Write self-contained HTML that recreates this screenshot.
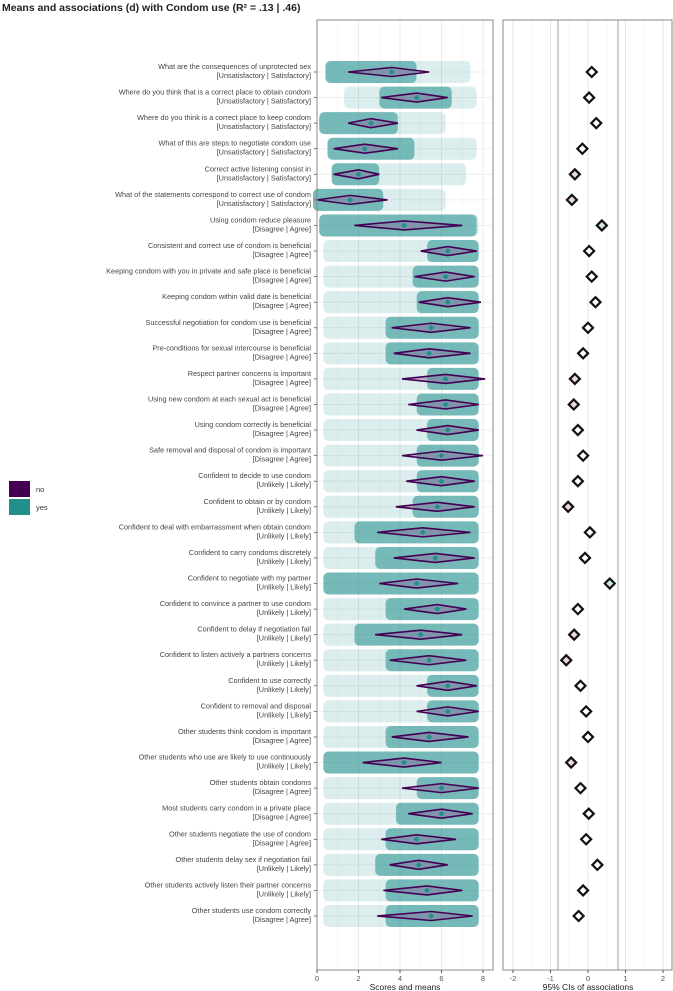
<!DOCTYPE html>
<html><head><meta charset="utf-8">
<style>
body{margin:0;background:#fff;width:673px;height:991px;overflow:hidden;font-family:"Liberation Sans",sans-serif;}
svg{display:block}
</style></head>
<body>
<svg id="c" width="673" height="991" xmlns="http://www.w3.org/2000/svg">
<text x="2" y="11" font-size="10.5" font-weight="bold" fill="#222">Means and associations (d) with Condom use (R² = .13 | .46)</text>
<g>
<rect x="9" y="481" width="21" height="16" fill="#440154"/>
<text x="36" y="492" font-size="7.5" fill="#333">no</text>
<rect x="9" y="499" width="21" height="16" fill="#21908c"/>
<text x="36" y="510" font-size="7.5" fill="#333">yes</text>
</g>
</svg>
<script>
const labels1=["What are the consequences of unprotected sex","Where do you think that is a correct place to obtain condom","Where do you think is a correct place to keep condom","What of this are steps to negotiate condom use","Correct active listening consist in","What of the statements correspond to correct use of condom","Using condom reduce pleasure","Consistent and correct use of condom is beneficial","Keeping condom with you in private and safe place is beneficial","Keeping condom  within valid date is beneficial","Successful negotiation for condom use is beneficial","Pre-conditions for sexual intercourse is beneficial","Respect partner concerns is important","Using new condom at each sexual act is beneficial","Using condom correctly is beneficial","Safe removal and disposal of condom is important","Confident to decide to use condom","Confident to obtain or by condom","Confident to deal with embarrassment when obtain condom","Confident to carry condoms discretely","Confident to negotiate with my partner","Confident to convince a partner to use condom","Confident to delay if negotiation fail","Confident to listen actively a partners concerns","Confident to use correctly","Confident to removal and disposal","Other students think condom is important","Other students who use are likely to use continuously","Other students obtain condoms","Most students carry condom in a private place","Other students negotiate the use of condom","Other students delay sex if negotiation fail","Other students actively listen their partner concerns","Other students use condom correctly"];
const anchors=["[Unsatisfactory | Satisfactory]","[Unsatisfactory | Satisfactory]","[Unsatisfactory | Satisfactory]","[Unsatisfactory | Satisfactory]","[Unsatisfactory | Satisfactory]","[Unsatisfactory | Satisfactory]","[Disagree | Agree]","[Disagree | Agree]","[Disagree | Agree]","[Disagree | Agree]","[Disagree | Agree]","[Disagree | Agree]","[Disagree | Agree]","[Disagree | Agree]","[Disagree | Agree]","[Disagree | Agree]","[Unlikely | Likely]","[Unlikely | Likely]","[Unlikely | Likely]","[Unlikely | Likely]","[Unlikely | Likely]","[Unlikely | Likely]","[Unlikely | Likely]","[Unlikely | Likely]","[Unlikely | Likely]","[Unlikely | Likely]","[Disagree | Agree]","[Unlikely | Likely]","[Disagree | Agree]","[Disagree | Agree]","[Disagree | Agree]","[Unlikely | Likely]","[Unlikely | Likely]","[Disagree | Agree]"];
const meanLo=[1.5,3.1,1.5,0.8,0.8,0,1.8,5.0,4.7,4.9,3.6,3.7,4.1,4.4,4.8,4.1,4.3,3.8,2.9,3.7,3.0,4.2,2.8,3.5,4.8,4.8,3.6,2.2,4.1,4.4,3.1,3.5,3.2,2.9];
const meanMid=[3.6,4.8,2.6,2.3,2.0,1.6,4.2,6.3,6.2,6.3,5.5,5.4,6.2,6.2,6.3,6.0,6.0,5.8,5.1,5.7,4.8,5.8,5.0,5.4,6.3,6.3,5.4,4.2,6.0,6.0,4.8,4.9,5.3,5.5];
const meanHi=[5.4,6.3,3.9,3.9,3.0,3.4,7.0,7.7,7.6,7.9,7.4,7.4,8.1,7.8,7.8,8.0,7.6,7.6,7.4,7.6,6.8,7.2,7.0,7.2,7.7,7.8,7.3,6.0,7.8,7.5,6.7,6.3,7.0,7.5];
const denseLo=[0.6,3.2,0.3,0.7,0.9,0,0.3,5.5,4.8,5.0,3.5,3.5,5.5,5.0,5.5,5.0,5.0,4.8,2.0,3.0,0.5,3.5,2.0,3.5,5.5,5.5,3.5,0.5,5.0,4.0,3.5,3.0,3.5,3.5];
const denseHi=[4.6,6.3,3.7,4.5,2.8,3.0,7.5,7.6,7.6,7.6,7.6,7.6,7.6,7.6,7.6,7.6,7.6,7.6,7.6,7.6,7.6,7.6,7.6,7.6,7.6,7.6,7.6,7.6,7.6,7.6,7.6,7.6,7.6,7.6];
const sparseLo=[0.6,1.5,0.3,0.7,0.9,0,0.3,0.5,0.5,0.5,0.5,0.5,0.5,0.5,0.5,0.5,0.5,0.5,0.5,0.5,0.5,0.5,0.5,0.5,0.5,0.5,0.5,0.5,0.5,0.5,0.5,0.5,0.5,0.5];
const sparseHi=[7.2,7.5,6.0,7.5,7.0,6.0,7.6,7.6,7.6,7.6,7.6,7.6,7.6,7.6,7.6,7.6,7.6,7.6,7.6,7.6,7.6,7.6,7.6,7.6,7.6,7.6,7.6,7.6,7.6,7.6,7.6,7.6,7.6,7.6];
const assoc=[0.10,0.03,0.22,-0.15,-0.35,-0.43,0.37,0.03,0.10,0.20,0,-0.13,-0.35,-0.38,-0.27,-0.13,-0.27,-0.53,0.05,-0.08,0.58,-0.27,-0.37,-0.58,-0.20,-0.05,0,-0.45,-0.20,0.02,-0.05,0.25,-0.13,-0.25];
const leftTicks=[0,2,4,6,8];
const rightTicks=[-2,-1,0,1,2];

const NS="http://www.w3.org/2000/svg";
const svg=document.getElementById('c');
function mk(tag,attrs,parent){const e=document.createElementNS(NS,tag);for(const k in attrs)e.setAttribute(k,attrs[k]);(parent||svg).appendChild(e);return e;}
const yTop=20,yBot=970,L0=317,L1=493,R0=503,R1=672;
const xL=v=>317+v*20.75;
const xR=v=>588+v*37.5;
const yRow=i=>72+i*(844/(labels1.length-1));

const lp=mk('g',{});


const rp=mk('g',{});


for(let v=0;v<=8;v++){const l=mk('line',{x1:xL(v),x2:xL(v),y1:yTop,y2:yBot,stroke:v%2?'#f2f2f2':'#e6e6e6','stroke-width':v%2?0.5:0.8},lp);}
for(let v=-2;v<=2;v+=0.5){const l=mk('line',{x1:xR(v),x2:xR(v),y1:yTop,y2:yBot,stroke:Number.isInteger(v)?'#e0e0e0':'#f2f2f2','stroke-width':0.8},rp);}
[-0.8,0.8].forEach(v=>{const l=mk('line',{x1:xR(v),x2:xR(v),y1:yTop,y2:yBot,stroke:'#b0b0b0','stroke-width':1.2},rp);});

labels1.forEach((lab,i)=>{
  const y=yRow(i);
  const g=mk('g',{},lp);
  
  
  mk('line',{x1:L0,x2:L1,y1:y,y2:y,stroke:'#ececec','stroke-width':0.8},g);
  const s=mk('rect',{x:xL(sparseLo[i])-4,y:y-11,width:xL(sparseHi[i])-xL(sparseLo[i])+8,height:22,rx:5,fill:'#21908c','fill-opacity':0.16},g);
  
  
  const d=mk('rect',{x:xL(denseLo[i])-4,y:y-11,width:xL(denseHi[i])-xL(denseLo[i])+8,height:22,rx:5,fill:'#21908c','fill-opacity':0.55},g);
  
  
  const lo=xL(meanLo[i]),mid=xL(meanMid[i]),hi=xL(meanHi[i]);
  const dm=mk('polygon',{points:`${lo},${y} ${mid},${y-4.5} ${hi},${y} ${mid},${y+4.5}`,fill:'#8e6a9e','fill-opacity':0.45,stroke:'#440154','stroke-width':1.6},g);
  
  
  const c=mk('polygon',{points:`${mid-3},${y} ${mid},${y-3} ${mid+3},${y} ${mid},${y+3}`,fill:'#21908c'},g);
  
  
  const t=mk('text',{x:311,y:y-3,'font-size':7.3,fill:'#444','text-anchor':'end'});
  t.textContent=lab;
  
  
  const t2=mk('text',{x:311,y:y+6,'font-size':7.3,fill:'#444','text-anchor':'end'});
  t2.textContent=anchors[i];
  
  
  mk('line',{x1:314,x2:317,y1:y,y2:y,stroke:'#555','stroke-width':0.8});
  const a=assoc[i],ax=xR(a);
  const ad=mk('polygon',{points:`${ax-5},${y} ${ax},${y-5} ${ax+5},${y} ${ax},${y+5}`,fill:a>0.3?'#cfe8dc':(a<-0.3?'#ecd6dc':'#fff'),stroke:'#111','stroke-width':2.2},rp);
  
  
});
mk('rect',{x:L0,y:yTop,width:L1-L0,height:yBot-yTop,fill:'none',stroke:'#888','stroke-width':1});
mk('rect',{x:R0,y:yTop,width:R1-R0,height:yBot-yTop,fill:'none',stroke:'#888','stroke-width':1});
leftTicks.forEach(v=>{mk('line',{x1:xL(v),x2:xL(v),y1:yBot,y2:yBot+3,stroke:'#555'});const t=mk('text',{x:xL(v),y:yBot+11,'font-size':7.5,fill:'#555','text-anchor':'middle'});t.textContent=v;});
rightTicks.forEach(v=>{mk('line',{x1:xR(v),x2:xR(v),y1:yBot,y2:yBot+3,stroke:'#555'});const t=mk('text',{x:xR(v),y:yBot+11,'font-size':7.5,fill:'#555','text-anchor':'middle'});t.textContent=v;});
const xt=mk('text',{x:(L0+L1)/2,y:yBot+20,'font-size':8.5,fill:'#222','text-anchor':'middle'});xt.textContent='Scores and means';


const xt2=mk('text',{x:588,y:yBot+20,'font-size':8.5,fill:'#222','text-anchor':'middle'});xt2.textContent='95% CIs of associations';


</script>
</body></html>
